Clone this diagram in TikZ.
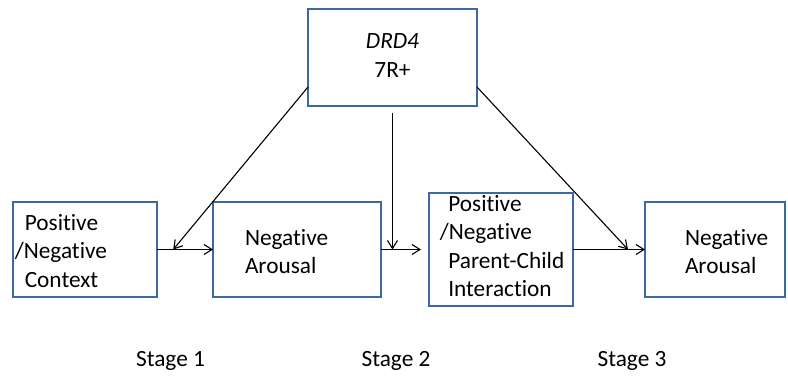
\documentclass[tikz,border=0pt]{standalone}
\usepackage{fontspec}
\setmainfont{Carlito}[Ligatures=NoCommon]
\usetikzlibrary{arrows.meta,calc}
\definecolor{boxBlue}{HTML}{3D69A3}
\newcommand{\boxfont}{\fontsize{23.3pt}{28.5pt}\selectfont}

\begin{document}
\begin{tikzpicture}[x=1pt,y=-1pt,->,>={Straight Barb[length=8pt,width=10pt]},
				line width=1.1pt, font=\boxfont,
				stagebox/.style={draw=boxBlue, line width=2.6pt, outer sep=0, inner sep=0},
				boxtext/.style={anchor=base west, inner sep=0, outer sep=0}]
				\useasboundingbox (0,0) rectangle (788,376);
				
				\node[stagebox, minimum width=169pt, minimum height=97pt] (gene) at (392.5, 57.5) {\begin{tabular}{c} \textit{DRD4} \\ 7R+ \end{tabular}};
				
				\node[stagebox, minimum width=144pt, minimum height=95pt] (ctx) at (85, 249.5) {};
				\node[stagebox, minimum width=168pt, minimum height=95pt] (arousA) at (297, 249.5) {};
				\node[stagebox, minimum width=144pt, minimum height=113pt] (interact) at (501, 249.5) {};
				\node[stagebox, minimum width=140pt, minimum height=95pt] (arousB) at (715, 249.5) {};
				
				\node[boxtext] (ctxtext) at (14.8, 230) {\begin{tabular}[t]{@{}l@{}} \hspace*{10pt}Positive \\ /Negative \\ \hspace*{10pt}Context \end{tabular}};
				\node[boxtext] (arousAtext) at (245, 245) {\begin{tabular}[t]{@{}l@{}} Negative \\ Arousal \end{tabular}};
				\node[boxtext] (interacttext) at (439.8, 211) {\begin{tabular}[t]{@{}l@{}} \hspace*{8.5pt}Positive \\ /Negative \\ \hspace*{8.5pt}Parent-Child \\ \hspace*{8.5pt}Interaction \end{tabular}};
				\node[boxtext] (arousBtext) at (685, 245) {\begin{tabular}[t]{@{}l@{}} Negative \\ Arousal \end{tabular}};
				
				\node[anchor=base] (stage1) at (170.5, 366) {Stage 1};
				\node[anchor=base] (stage2) at (396, 366) {Stage 2};
				\node[anchor=base] (stage3) at (632, 366) {Stage 3};
				
				\coordinate (m1) at ($(ctx.east)!0.29!(arousA.west)$);
				\coordinate (m3) at ($(interact.east)!0.764!(arousB.west)$);
				
				\path (ctx) edge (arousA);
				\path (arousA) edge[shorten >=8pt] (interact);
				\path (interact) edge (arousB);
				
				\path ([yshift=19pt]gene.south west) edge (m1);
				\path ([yshift=-7pt]gene.south) edge (gene.south |- arousA.east);
				\path ([yshift=19pt]gene.south east) edge (m3);
			\end{tikzpicture}
\end{document}
